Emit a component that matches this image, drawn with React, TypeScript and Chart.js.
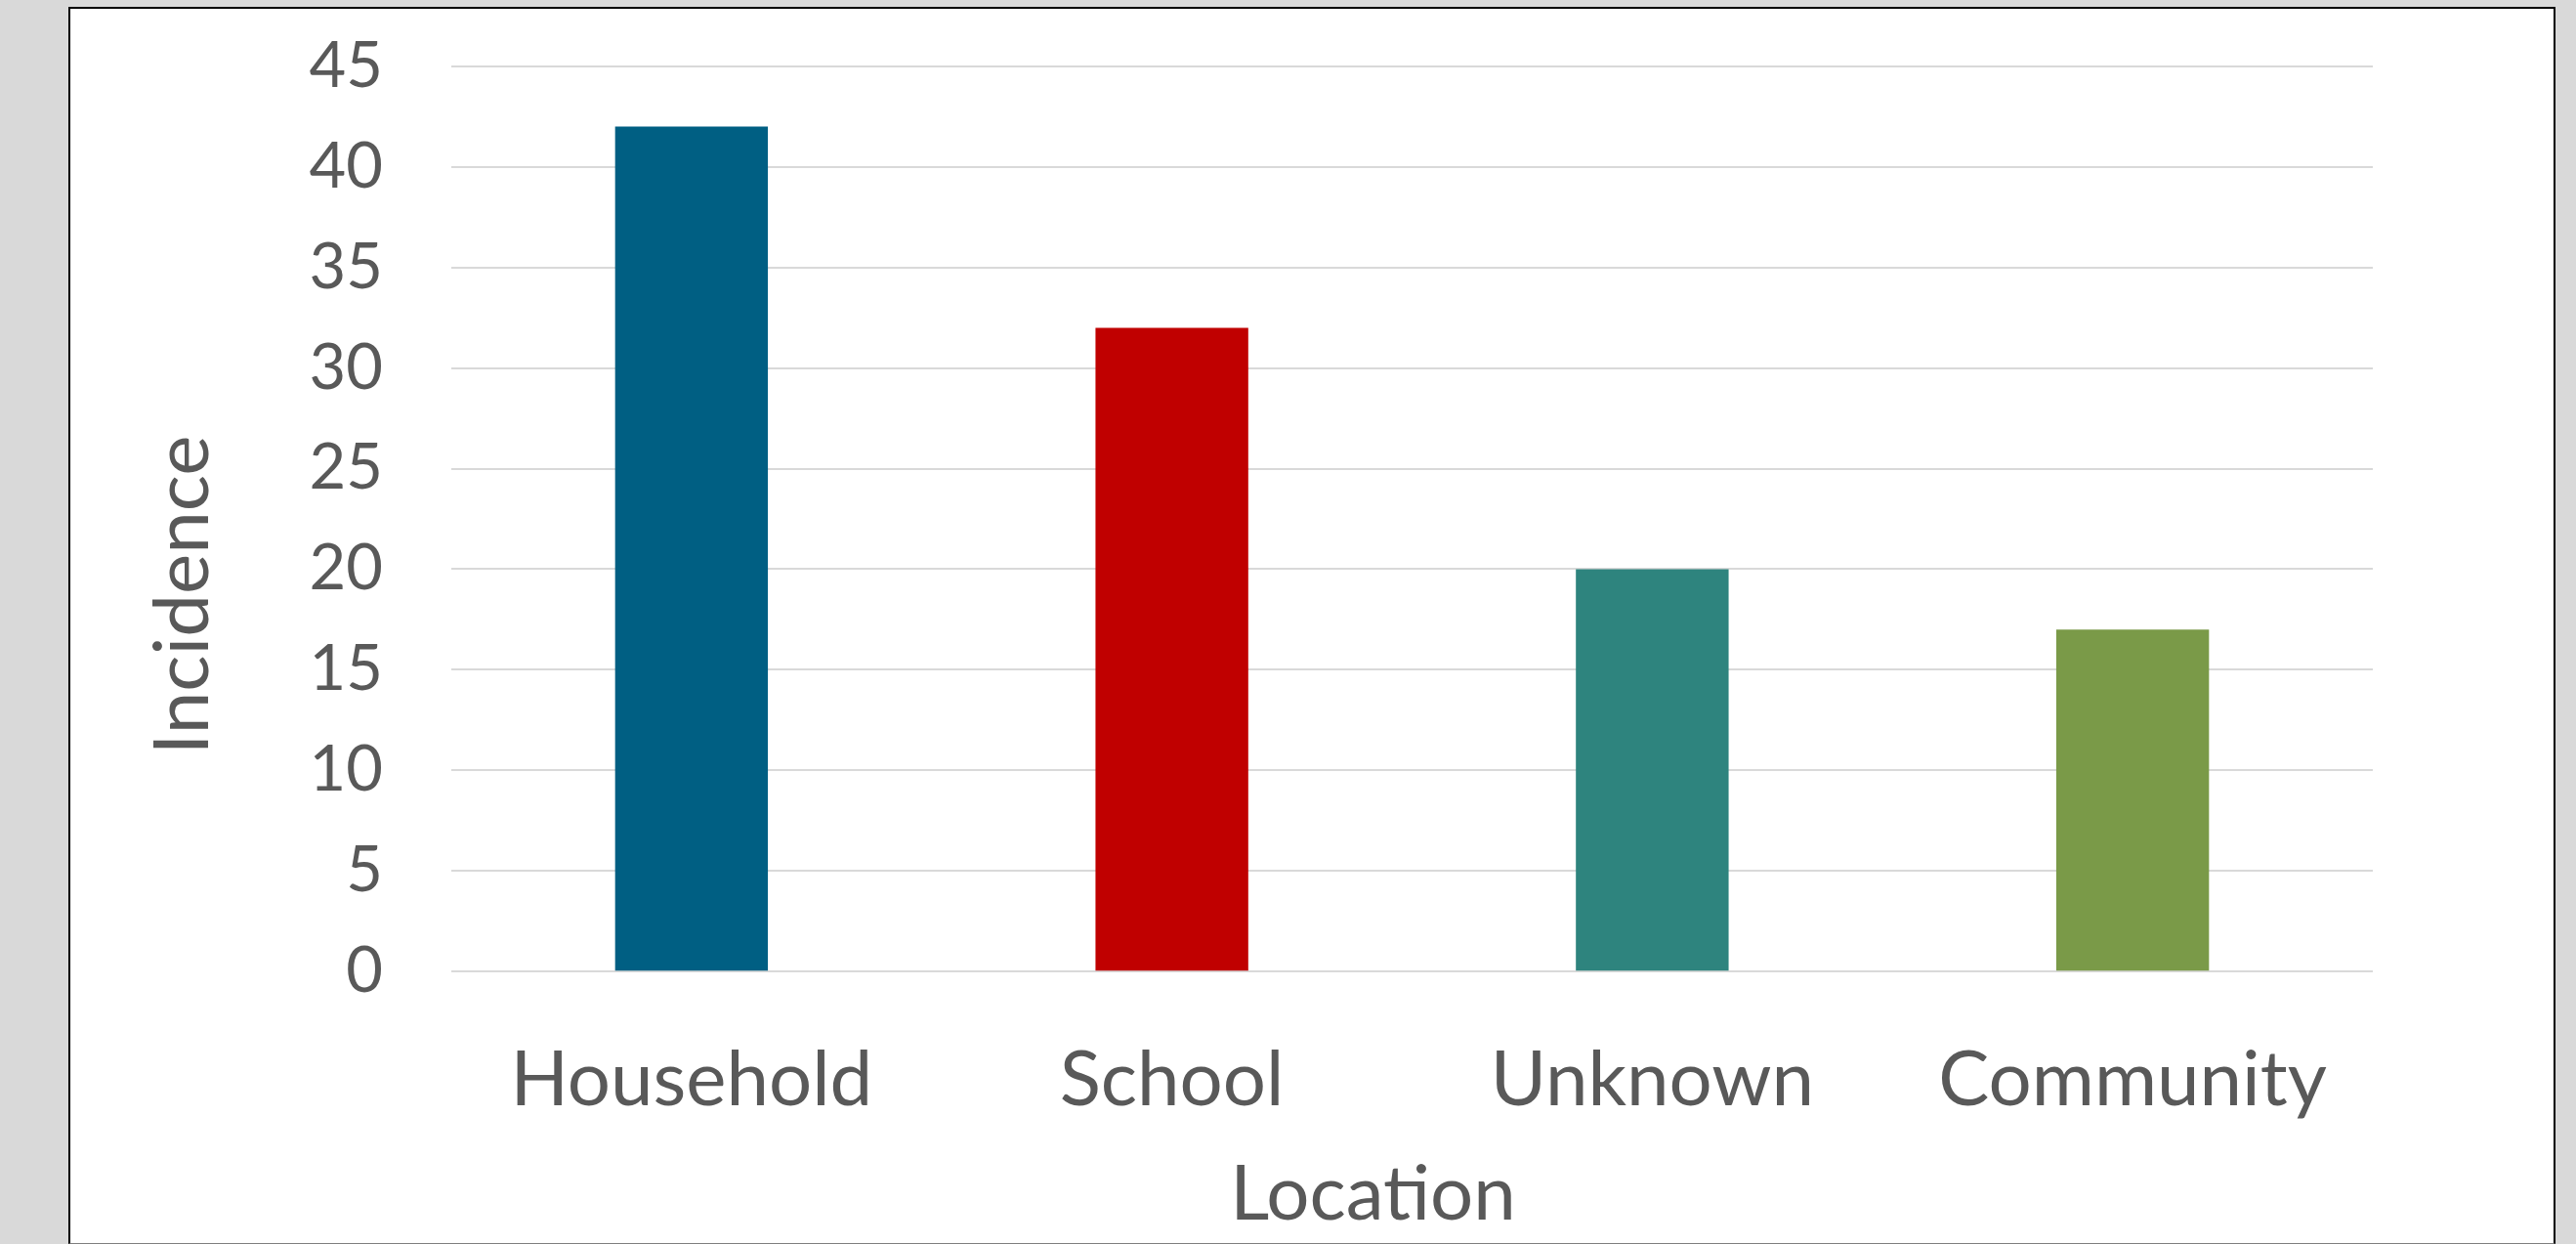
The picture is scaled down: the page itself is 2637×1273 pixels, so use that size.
import React, { useEffect, useRef } from "react";
import { Chart, registerables } from "chart.js";

Chart.register(...registerables);

const categories = ["Household", "School", "Unknown", "Community"];
const incidence = [42, 32, 20, 17];
const barColors = ["#005F83", "#C00000", "#2E847E", "#7A9A48"];
const yTicks = [0, 5, 10, 15, 20, 25, 30, 35, 40, 45];
const xTitle = "Location";
const yTitle = "Incidence";

const CANVAS_W = 2542;
const CANVAS_H = 1263;
const TEXT = "#595959";
const FONT = "Lato, 'Liberation Sans', sans-serif";

const axisTitles = {
  id: "axisTitles",
  afterDraw(chart: any) {
    const { ctx, chartArea } = chart;
    ctx.save();
    ctx.fillStyle = TEXT;
    ctx.font = `78px ${FONT}`;
    ctx.textAlign = "center";
    ctx.textBaseline = "middle";
    // x title
    const cx = (chartArea.left + chartArea.right) / 2 - 40;
    ctx.fillText(xTitle, cx, chartArea.bottom + 229);
    // y title
    const cy = (chartArea.top + chartArea.bottom) / 2 + 78;
    ctx.translate(chartArea.left - 274, cy);
    ctx.rotate(-Math.PI / 2);
    ctx.fillText(yTitle, 0, 0);
    ctx.restore();
  },
};

export default function App() {
  const ref = useRef<HTMLCanvasElement | null>(null);

  useEffect(() => {
    if (!ref.current) return;
    const chart = new Chart(ref.current, {
      type: "bar",
      data: {
        labels: categories,
        datasets: [
          {
            label: yTitle,
            data: incidence,
            backgroundColor: barColors,
            borderWidth: 0,
            barPercentage: 0.318,
            categoryPercentage: 1,
          },
        ],
      },
      plugins: [axisTitles],
      options: {
        animation: false,
        responsive: false,
        devicePixelRatio: 1,
        layout: { padding: { top: 58.7, right: 185, left: 0, bottom: 0 } },
        plugins: {
          legend: { display: false },
          tooltip: { enabled: false },
        },
        scales: {
          x: {
            grid: { display: false },
            border: { display: false },
            ticks: {
              color: TEXT,
              font: { family: FONT, size: 78 },
              padding: 57,
            },
            title: { display: false, text: xTitle },
            afterFit: (s: any) => {
              s.height = 277.7;
            },
          },
          y: {
            min: 0,
            max: 45,
            afterBuildTicks: (s: any) => {
              s.ticks = yTicks.map((v) => ({ value: v }));
            },
            grid: {
              color: "#D9D9D9",
              lineWidth: 2,
              drawTicks: true,
              tickLength: 70,
              tickColor: "rgba(0,0,0,0)",
            },
            border: { display: false },
            ticks: {
              color: TEXT,
              font: { family: FONT, size: 65 },
              padding: 0,
            },
            title: { display: false, text: yTitle },
            afterFit: (s: any) => {
              s.width = 390;
            },
          },
        },
      },
    });
    return () => chart.destroy();
  }, []);

  return (
    <div
      style={{
        position: "fixed",
        left: 0,
        top: 0,
        width: 2637,
        height: 1273,
        background: "#D9D9D9",
        overflow: "hidden",
      }}
    >
      <div
        style={{
          position: "absolute",
          left: 70,
          top: 7,
          width: 2546,
          height: 1266,
          boxSizing: "border-box",
          background: "#FFFFFF",
          borderTop: "2px solid #000",
          borderLeft: "2px solid #000",
          borderRight: "2px solid #000",
          borderBottom: "1px solid #7F7F7F",
        }}
      >
        <canvas
          ref={ref}
          width={CANVAS_W}
          height={CANVAS_H}
          style={{ display: "block", width: CANVAS_W, height: CANVAS_H }}
        />
      </div>
    </div>
  );
}
